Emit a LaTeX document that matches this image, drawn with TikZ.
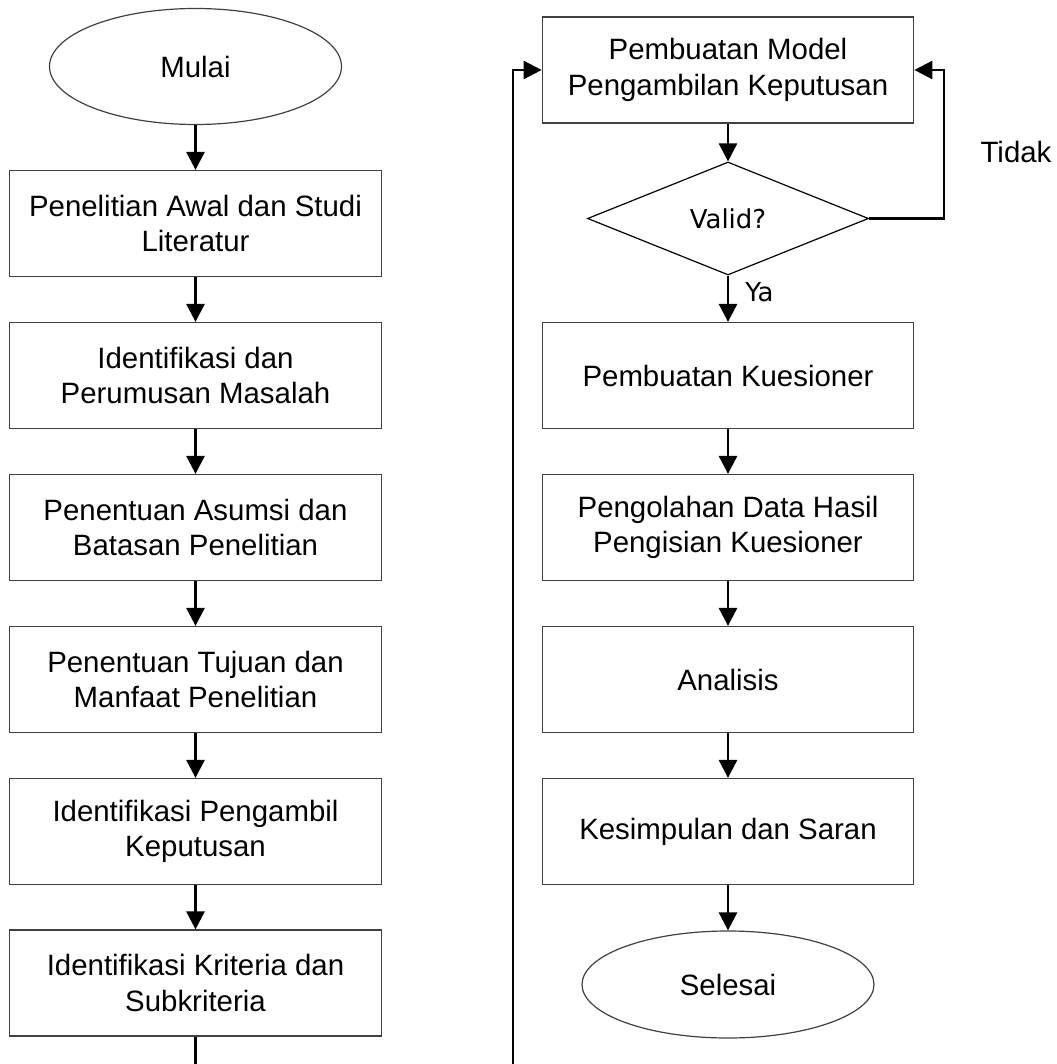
\documentclass[tikz,border=0pt]{standalone}
\usepackage{fontspec}
\setmainfont{Liberation Sans}
\newfontfamily\dejavu{DejaVu Sans}
\usetikzlibrary{shapes.geometric}
\usetikzlibrary{arrows.meta}

\begin{document}
\begin{tikzpicture}[x=0.5pt,y=-0.5pt,
    box/.style={draw=black!75,line width=0.6pt,minimum width=185.75pt,minimum height=53pt,inner sep=0pt,align=center,font=\fontsize{14.7}{17.8}\selectfont},
    term/.style={draw=black!75,line width=0.6pt,ellipse,minimum width=146pt,inner sep=0pt,font=\fontsize{14.7}{17.8}\selectfont},
    dec/.style={draw=black,line width=0.6pt,diamond,aspect=2.5,minimum width=140.5pt,minimum height=56.5pt,inner sep=0pt,font=\dejavu\fontsize{13}{15.6}\selectfont},
    arr/.style={line width=1.35pt,-{Triangle[length=9pt,width=9pt]}},
    lin/.style={line width=1.35pt}]
            \useasboundingbox (0,0) rectangle (1056,1064);
            % kolom kiri
            \node[term,minimum height=58pt] (mulai) at (195.5,66.5) {Mulai};
            \node[box] (awal) at (195.5,223.5) {Penelitian Awal dan Studi\\Literatur};
            \node[box] (masalah) at (195.5,375.5) {Identifikasi dan\\Perumusan Masalah};
            \node[box] (asumsi) at (195.5,527.5) {Penentuan Asumsi dan\\Batasan Penelitian};
            \node[box] (tujuan) at (195.5,679.5) {Penentuan Tujuan dan\\Manfaat Penelitian};
            \node[box] (pengambil) at (195.5,831.5) {Identifikasi Pengambil\\Keputusan};
            \node[box] (kriteria) at (195.5,983) {Identifikasi Kriteria dan\\Subkriteria};
            % kolom kanan
            \node[box] (model) at (728,70) {Pembuatan Model\\Pengambilan Keputusan};
            \node[dec] (valid) at (728,218.5) {Valid?};
            \node[box] (kuesioner) at (728,375.5) {Pembuatan Kuesioner};
            \node[box] (olah) at (728,527.5) {Pengolahan Data Hasil\\Pengisian Kuesioner};
            \node[box] (analisis) at (728,679.5) {Analisis};
            \node[box] (simpul) at (728,831.5) {Kesimpulan dan Saran};
            \node[term,minimum height=53.5pt] (selesai) at (728,984.5) {Selesai};
            \node[font=\dejavu\fontsize{13}{15.6}\selectfont,anchor=west,inner sep=0pt] (ya) at (745,292.5) {Ya};
            \node[font=\fontsize{14.7}{17.8}\selectfont,inner sep=0pt] (tidak) at (1016,152) {Tidak};
            \coordinate (kiri) at (195.5,1064);
            \coordinate (balik) at (513,1064);
            \draw[arr] (mulai) -- (awal);
            \draw[arr] (awal) -- (masalah);
            \draw[arr] (masalah) -- (asumsi);
            \draw[arr] (asumsi) -- (tujuan);
            \draw[arr] (tujuan) -- (pengambil);
            \draw[arr] (pengambil) -- (kriteria);
            \draw[lin] (kriteria) -- (kiri);
            \draw[arr] (balik) |- (model.west);
            \draw[arr] (model) -- (valid);
            \draw[arr] (valid.east) -- ++(75,0) |- (model.east);
            \draw[arr] (valid) -- (kuesioner);
            \draw[arr] (kuesioner) -- (olah);
            \draw[arr] (olah) -- (analisis);
            \draw[arr] (analisis) -- (simpul);
            \draw[arr] (simpul) -- (selesai);
        \end{tikzpicture}
\end{document}
